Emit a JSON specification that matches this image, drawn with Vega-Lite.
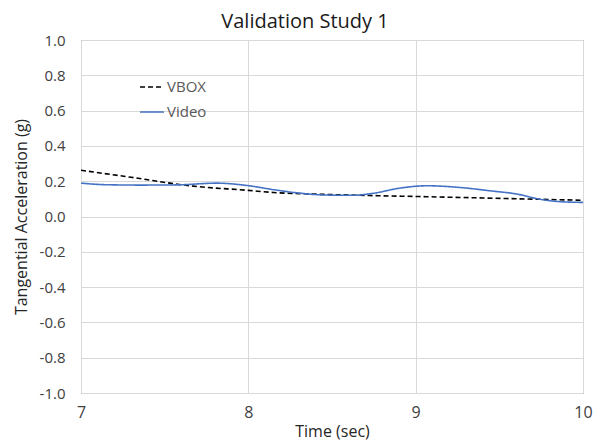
{
  "$schema": "https://vega.github.io/schema/vega-lite/v6.json",
  "width": 502,
  "height": 353,
  "autosize": {"type": "none"},
  "padding": {"left": 81, "top": 40, "right": 22, "bottom": 52},
  "background": "white",
  "title": {"text": "Validation Study 1", "font": "Open Sans", "fontSize": 20, "fontWeight": "normal", "color": "#1a1a1a", "anchor": "middle", "dx": -27, "offset": 1},
  "config": {
    "view": {"stroke": "#868686", "strokeWidth": 1},
    "font": "Open Sans"
  },
  "data": {"values": [
    {"Series": "VBOX", "t": 7.0, "a": 0.262},
    {"Series": "VBOX", "t": 7.3, "a": 0.222},
    {"Series": "VBOX", "t": 7.67, "a": 0.172},
    {"Series": "VBOX", "t": 8.0, "a": 0.148},
    {"Series": "VBOX", "t": 8.15, "a": 0.136},
    {"Series": "VBOX", "t": 8.4, "a": 0.127},
    {"Series": "VBOX", "t": 8.67, "a": 0.12},
    {"Series": "VBOX", "t": 9.07, "a": 0.112},
    {"Series": "VBOX", "t": 9.4, "a": 0.105},
    {"Series": "VBOX", "t": 9.67, "a": 0.099},
    {"Series": "VBOX", "t": 10.0, "a": 0.092},
    {"Series": "Video", "t": 7.0, "a": 0.189},
    {"Series": "Video", "t": 7.15, "a": 0.18},
    {"Series": "Video", "t": 7.35, "a": 0.178},
    {"Series": "Video", "t": 7.57, "a": 0.179},
    {"Series": "Video", "t": 7.81, "a": 0.189},
    {"Series": "Video", "t": 7.99, "a": 0.176},
    {"Series": "Video", "t": 8.15, "a": 0.152},
    {"Series": "Video", "t": 8.3, "a": 0.133},
    {"Series": "Video", "t": 8.45, "a": 0.122},
    {"Series": "Video", "t": 8.62, "a": 0.12},
    {"Series": "Video", "t": 8.75, "a": 0.132},
    {"Series": "Video", "t": 8.9, "a": 0.16},
    {"Series": "Video", "t": 9.07, "a": 0.174},
    {"Series": "Video", "t": 9.27, "a": 0.164},
    {"Series": "Video", "t": 9.45, "a": 0.145},
    {"Series": "Video", "t": 9.6, "a": 0.128},
    {"Series": "Video", "t": 9.76, "a": 0.095},
    {"Series": "Video", "t": 9.88, "a": 0.083},
    {"Series": "Video", "t": 10.0, "a": 0.08}
  ]},
  "mark": {"type": "line", "interpolate": "monotone", "strokeWidth": 1.6, "clip": true},
  "encoding": {
    "x": {"field": "t", "type": "quantitative",
      "scale": {"domain": [7, 10], "nice": false, "zero": false},
      "axis": {"values": [7, 8, 9, 10], "format": "d", "title": "Time (sec)", "grid": true, "gridColor": "#d9d9d9", "domain": false, "ticks": false, "labelFlush": false, "labelBound": false, "labelOverlap": false,
        "labelFont": "Open Sans", "labelFontSize": 16, "labelColor": "#404040", "labelPadding": 11,
        "titleFont": "Open Sans", "titleFontSize": 16, "titleFontWeight": "normal", "titleColor": "#262626", "titlePadding": 3}},
    "y": {"field": "a", "type": "quantitative",
      "scale": {"domain": [-1, 1], "nice": false},
      "axis": {"values": [-1, -0.8, -0.6, -0.4, -0.2, 0, 0.2, 0.4, 0.6, 0.8, 1], "labelExpr": "replace(format(datum.value, '.1f'), '\u2212', '-')", "title": "Tangential Acceleration (g)", "grid": true, "gridColor": "#d9d9d9", "domain": false, "ticks": false, "labelFlush": false, "labelOverlap": false,
        "labelFont": "Open Sans", "labelFontSize": 15, "labelColor": "#404040", "labelPadding": 16,
        "titleFont": "Open Sans", "titleFontSize": 16, "titleFontWeight": "normal", "titleColor": "#262626", "titlePadding": 10}},
    "color": {"field": "Series", "type": "nominal",
      "scale": {"domain": ["VBOX", "Video"], "range": ["#000000", "#4472C4"]},
      "legend": {"orient": "none", "legendX": 58, "legendY": 34, "title": null, "symbolType": "stroke", "symbolSize": 576, "symbolStrokeWidth": 1.6,
        "labelFont": "Open Sans", "labelFontSize": 15, "labelColor": "#595959", "labelOffset": 2, "rowPadding": 4}},
    "strokeDash": {"field": "Series", "type": "nominal",
      "scale": {"domain": ["VBOX", "Video"], "range": [[5, 3], [1, 0]]},
      "legend": {"orient": "none", "legendX": 58, "legendY": 34, "title": null, "symbolType": "stroke", "symbolSize": 576, "symbolStrokeWidth": 1.6,
        "labelFont": "Open Sans", "labelFontSize": 15, "labelColor": "#595959", "labelOffset": 2, "rowPadding": 4}}
  }
}
